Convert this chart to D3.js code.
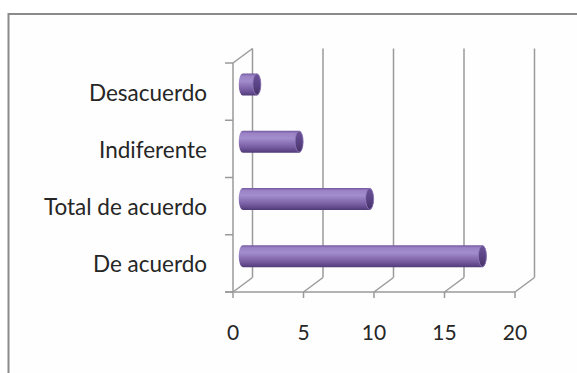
<!DOCTYPE html>
<html><head><meta charset="utf-8">
<script src="https://cdn.jsdelivr.net/npm/d3@7"></script>
<style>body{margin:0;background:#fff}svg{display:block}</style>
</head><body>
<script>
const categories = ["Desacuerdo","Indiferente","Total de acuerdo","De acuerdo"];
const values = [1, 4, 9, 17];
const xTicks = [0, 5, 10, 15, 20];

const W = 577, H = 373;
const svg = d3.select("body").append("svg").attr("width", W).attr("height", H);

const defs = svg.append("defs");
const g1 = defs.append("linearGradient").attr("id","body").attr("x1",0).attr("y1",0).attr("x2",0).attr("y2",1);
[[0,"#6f559a"],[0.12,"#9b82c6"],[0.35,"#a38dcc"],[0.7,"#7d62a8"],[0.92,"#5e4688"],[1,"#4f3a75"]]
  .forEach(([o,c])=>g1.append("stop").attr("offset",o).attr("stop-color",c));
const g2 = defs.append("linearGradient").attr("id","cap").attr("x1",0).attr("y1",0).attr("x2",0).attr("y2",1);
[[0,"#6a5296"],[0.5,"#5b4486"],[1,"#463266"]]
  .forEach(([o,c])=>g2.append("stop").attr("offset",o).attr("stop-color",c));

// frame
svg.append("rect").attr("x",8.5).attr("y",14).attr("width",W).attr("height",H)
  .attr("fill","#fefefe").attr("stroke","#8a8a8a").attr("stroke-width",2);

const x = d3.scaleLinear().domain([0,20]).range([233,515]);
const y = d3.scaleBand().domain(categories).range([63,292]);
const dx = 19.5, dy = -14.5;
const grid = "#9a9a9a";

const g = svg.append("g");
// back wall gridlines
g.selectAll(".vg").data(xTicks).join("line")
  .attr("x1",d=>x(d)+dx).attr("x2",d=>x(d)+dx)
  .attr("y1",292+dy).attr("y2",63+dy)
  .attr("stroke",grid).attr("stroke-width",1.5);
// floor diagonals
g.selectAll(".fd").data(xTicks).join("line")
  .attr("x1",d=>x(d)).attr("x2",d=>x(d)+dx)
  .attr("y1",292).attr("y2",292+dy)
  .attr("stroke",grid).attr("stroke-width",1.5);
// left wall
g.append("line").attr("x1",x(0)).attr("x2",x(0)).attr("y1",63).attr("y2",292)
  .attr("stroke",grid).attr("stroke-width",1.5);
g.append("line").attr("x1",x(0)).attr("x2",x(0)+dx).attr("y1",63).attr("y2",63+dy)
  .attr("stroke",grid).attr("stroke-width",1.5);
// y ticks
const yb = categories.map(c=>y(c)).concat([292]);
g.selectAll(".yt").data(yb).join("line")
  .attr("x1",x(0)-8).attr("x2",x(0)).attr("y1",d=>d).attr("y2",d=>d)
  .attr("stroke",grid).attr("stroke-width",1.5);
// x axis
g.append("line").attr("x1",x(0)-8).attr("x2",x(20)).attr("y1",292).attr("y2",292)
  .attr("stroke",grid).attr("stroke-width",1.5);
g.selectAll(".xt").data(xTicks).join("line")
  .attr("x1",d=>x(d)).attr("x2",d=>x(d)).attr("y1",292).attr("y2",298)
  .attr("stroke",grid).attr("stroke-width",1.5);

// bars (cylinders)
const bh = 22, rx = 4;
const bars = g.selectAll(".bar").data(categories.map((c,i)=>({c, v:values[i]}))).join("g");
bars.append("path")
  .attr("d", d=>{
    const cy = y(d.c)+y.bandwidth()/2 + dy/2;
    const x0 = x(0)+dx/2, x1 = x(d.v)+dx/2;
    const t = cy-bh/2, b = cy+bh/2;
    return `M${x1},${t} L${x0},${t} A${rx},${bh/2} 0 0 0 ${x0},${b} L${x1},${b} A${rx},${bh/2} 0 0 0 ${x1},${t} Z`;
  })
  .attr("fill","url(#body)");
bars.append("ellipse")
  .attr("cx", d=>x(d.v)+dx/2)
  .attr("cy", d=>y(d.c)+y.bandwidth()/2 + dy/2)
  .attr("rx", rx).attr("ry", bh/2-0.5)
  .attr("fill","url(#cap)").attr("stroke","#8f79bb").attr("stroke-width",0.8);

// labels
const font = "Lato, 'Open Sans', sans-serif";
svg.selectAll(".cl").data(categories).join("text")
  .attr("x",207).attr("y",d=>y(d)+y.bandwidth()/2+9)
  .attr("text-anchor","end").attr("font-family",font).attr("font-size",22.5)
  .attr("fill","#262626").text(d=>d);
svg.selectAll(".xl").data(xTicks).join("text")
  .attr("x",d=>x(d)).attr("y",340)
  .attr("text-anchor","middle").attr("font-family",font).attr("font-size",21)
  .attr("fill","#262626").text(d=>d);
</script>
</body></html>
